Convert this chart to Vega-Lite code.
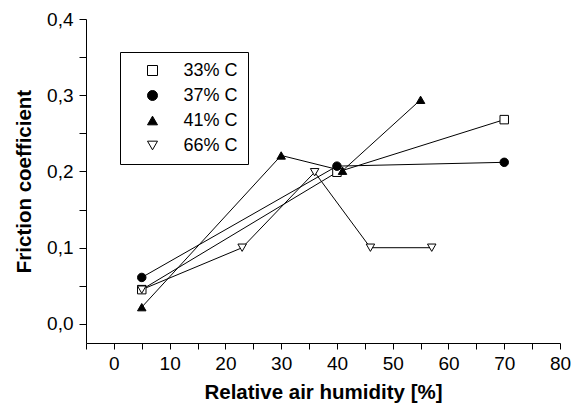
{
  "$schema": "https://vega.github.io/schema/vega-lite/v6.json",
  "width": 474,
  "height": 324,
  "autosize": {"type": "none"},
  "padding": {"left": 86, "top": 19, "right": 25, "bottom": 68},
  "background": "white",
  "config": {
    "font": "Liberation Sans",
    "view": {"stroke": null},
    "axis": {
      "domainColor": "black",
      "tickColor": "black",
      "labelColor": "black",
      "titleColor": "black",
      "grid": false,
      "labelOverlap": false,
      "labelFlush": false,
      "labelFontSize": 19,
      "titleFontSize": 20.5,
      "titleFontWeight": "bold"
    },
    "legend": {
      "labelFontSize": 18,
      "labelColor": "black"
    }
  },
  "data": {
    "values": [
      {"series": "33% C", "humidity": 5, "friction": 0.045},
      {"series": "33% C", "humidity": 40, "friction": 0.199},
      {"series": "33% C", "humidity": 70, "friction": 0.268},
      {"series": "37% C", "humidity": 5, "friction": 0.061},
      {"series": "37% C", "humidity": 40, "friction": 0.207},
      {"series": "37% C", "humidity": 70, "friction": 0.212},
      {"series": "41% C", "humidity": 5, "friction": 0.022},
      {"series": "41% C", "humidity": 30, "friction": 0.221},
      {"series": "41% C", "humidity": 41, "friction": 0.201},
      {"series": "41% C", "humidity": 55, "friction": 0.294},
      {"series": "66% C", "humidity": 5, "friction": 0.045},
      {"series": "66% C", "humidity": 23, "friction": 0.1},
      {"series": "66% C", "humidity": 36, "friction": 0.199},
      {"series": "66% C", "humidity": 46, "friction": 0.1},
      {"series": "66% C", "humidity": 57, "friction": 0.1}
    ]
  },
  "encoding": {
    "x": {
      "field": "humidity",
      "type": "quantitative",
      "scale": {"domain": [-5, 80], "nice": false, "zero": false},
      "axis": {
        "title": "Relative air humidity [%]",
        "values": [-5, 0, 5, 10, 15, 20, 25, 30, 35, 40, 45, 50, 55, 60, 65, 70, 75, 80],
        "labelExpr": "(datum.value % 10 === 0 && datum.value >= 0) ? datum.label : ''",
        "tickSize": 6,
        "labelPadding": 5,
        "titlePadding": 9,
        "encode": {
          "ticks": {"update": {"y2": {"signal": "datum.value % 10 === 0 ? 6 : 3.5"}}}
        }
      }
    },
    "y": {
      "field": "friction",
      "type": "quantitative",
      "scale": {"domain": [-0.025, 0.4], "nice": false, "zero": false},
      "axis": {
        "title": "Friction coefficient",
        "values": [0, 0.05, 0.1, 0.15, 0.2, 0.25, 0.3, 0.35, 0.4],
        "labelExpr": "round(datum.value * 100) % 10 === 0 ? replace(format(datum.value, '.1f'), '.', ',') : ''",
        "tickSize": 7,
        "labelPadding": 6,
        "titlePadding": 12,
        "encode": {
          "ticks": {"update": {"x2": {"signal": "round(datum.value * 100) % 10 === 0 ? -7 : -4"}}}
        }
      }
    }
  },
  "layer": [
    {
      "mark": {"type": "line", "color": "black", "strokeWidth": 1},
      "encoding": {
        "detail": {"field": "series", "type": "nominal"}
      }
    },
    {
      "mark": {"type": "point", "stroke": "black", "strokeWidth": 1, "opacity": 1, "size": 72},
      "encoding": {
        "shape": {
          "field": "series",
          "type": "nominal",
          "scale": {"domain": ["33% C", "37% C", "41% C", "66% C"], "range": ["square", "circle", "triangle-up", "triangle-down"]},
          "legend": {
            "title": null,
            "orient": "none",
            "legendX": 34,
            "legendY": 33,
            "strokeColor": "black",
            "padding": 9.5,
            "rowPadding": 7,
            "symbolSize": 100,
            "symbolOffset": 14,
            "labelOffset": 22,
            "symbolStrokeColor": "black",
            "symbolStrokeWidth": 1,
            "symbolFillColor": "white",
            "encode": {
              "symbols": {
                "update": {
                  "fill": {"signal": "(datum.value === '37% C' || datum.value === '41% C') ? 'black' : 'white'"},
                  "stroke": {"value": "black"},
                  "strokeWidth": {"value": 1}
                }
              }
            }
          }
        },
        "fill": {
          "field": "series",
          "type": "nominal",
          "scale": {"domain": ["33% C", "37% C", "41% C", "66% C"], "range": ["white", "black", "black", "white"]},
          "legend": null
        }
      }
    }
  ]
}
